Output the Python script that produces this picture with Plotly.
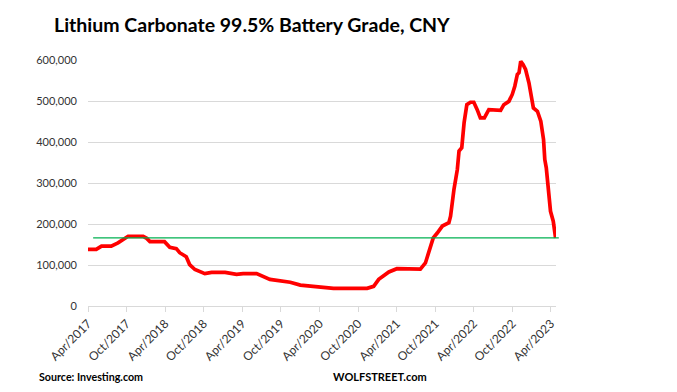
import plotly.graph_objects as go

dates = [
    "2017-04-01", "2017-05-10", "2017-06-04", "2017-07-20", "2017-08-21", "2017-09-14",
    "2017-10-08", "2017-12-18", "2018-01-04", "2018-01-19", "2018-03-29", "2018-04-23",
    "2018-05-24", "2018-06-09", "2018-07-10", "2018-07-26", "2018-08-20", "2018-10-06",
    "2018-11-07", "2019-01-10", "2019-03-05", "2019-04-05", "2019-06-08", "2019-08-10",
    "2019-11-14", "2020-01-01", "2020-04-04", "2020-06-06", "2020-11-12", "2020-12-13",
    "2021-01-06", "2021-01-30", "2021-02-23", "2021-04-02", "2021-07-22", "2021-08-15",
    "2021-08-31", "2021-09-21", "2021-10-10", "2021-11-03", "2021-12-04", "2021-12-12",
    "2021-12-28", "2022-01-13", "2022-01-21", "2022-02-03", "2022-02-14", "2022-02-27",
    "2022-03-16", "2022-04-01", "2022-04-17", "2022-05-02", "2022-05-21", "2022-06-11",
    "2022-08-06", "2022-08-21", "2022-09-14", "2022-09-30", "2022-10-12", "2022-10-24",
    "2022-11-01", "2022-11-09", "2022-11-20", "2022-12-02", "2022-12-18", "2022-12-31",
    "2023-01-08", "2023-01-27", "2023-02-12", "2023-02-25", "2023-03-03", "2023-03-10",
    "2023-03-19", "2023-03-30", "2023-04-12", "2023-04-23",
]
prices = [
    138000, 138000, 146000, 146000, 154000, 162000,
    170000, 170000, 165000, 157000, 157000, 143000,
    140000, 130000, 120000, 101000, 89000, 79000,
    82000, 82000, 77000, 79000, 79000, 65000,
    58000, 51000, 47000, 43000, 43000, 48000,
    65000, 73000, 83000, 91000, 90000, 105000,
    130000, 166000, 178000, 195000, 203000, 219000,
    284000, 333000, 378000, 386000, 447000, 491000,
    497000, 497000, 479000, 459000, 459000, 479000,
    477000, 491000, 499000, 516000, 536000, 565000,
    569000, 597000, 589000, 577000, 544000, 512000,
    483000, 475000, 451000, 406000, 357000, 337000,
    284000, 231000, 207000, 166000,
]
reference_level = 166000

tick_dates = ["2017-04-01", "2017-10-01", "2018-04-01", "2018-10-01", "2019-04-01",
              "2019-10-01", "2020-04-01", "2020-10-01", "2021-04-01", "2021-10-01",
              "2022-04-01", "2022-10-01", "2023-04-01"]
tick_labels = ["Apr/2017", "Oct/2017", "Apr/2018", "Oct/2018", "Apr/2019", "Oct/2019",
               "Apr/2020", "Oct/2020", "Apr/2021", "Oct/2021", "Apr/2022", "Oct/2022",
               "Apr/2023"]
y_ticks = [0, 100000, 200000, 300000, 400000, 500000, 600000]

title_text = "Lithium Carbonate 99.5% Battery Grade, CNY"
source_text = "Source: Investing.com"
brand_text = "WOLFSTREET.com"

FONT = "Lato, 'Open Sans', sans-serif"

fig = go.Figure()
fig.add_trace(go.Scatter(
    x=dates, y=prices, mode="lines",
    line=dict(color="#ff0000", width=3.7),
    hoverinfo="x+y", showlegend=False,
))

fig.add_shape(type="line", xref="paper", yref="y",
              x0=0.011, x1=1.006, y0=reference_level, y1=reference_level,
              line=dict(color="#00b050", width=1.2), layer="above")

fig.update_layout(
    width=677, height=392,
    margin=dict(l=88, r=121, t=60, b=86, autoexpand=False),
    paper_bgcolor="white", plot_bgcolor="white",
    font=dict(family=FONT, size=11, color="#404040"),
    showlegend=False,
    xaxis=dict(
        type="date", range=["2017-04-01", "2023-04-25"], automargin=False,
        tickvals=tick_dates, ticktext=tick_labels, tickangle=-45,
        showgrid=False, showline=True, linecolor="#d9d9d9", linewidth=1,
        ticks="outside", ticklen=5, tickcolor="#d9d9d9",
        tickfont=dict(family=FONT, size=12, color="#333333"),
        zeroline=False,
    ),
    yaxis=dict(
        range=[0, 600000], tickvals=y_ticks, tickformat=",", automargin=False,
        showgrid=True, gridcolor="#d9d9d9", gridwidth=1,
        zeroline=False, showline=False, ticks="",
        ticklabelstandoff=10,
        tickfont=dict(family=FONT, size=11, color="#333333"),
    ),
    annotations=[
        dict(text="<b>" + title_text + "</b>", xref="paper", yref="paper",
             x=-0.077, y=1.0, yanchor="bottom", xanchor="left",
             yshift=22, showarrow=False,
             font=dict(family=FONT, size=19.5, color="black")),
        dict(text="<b>" + source_text + "</b>", xref="paper", yref="paper",
             x=-0.109, xanchor="left", y=0, yanchor="middle", yshift=-70,
             showarrow=False, font=dict(family=FONT, size=10.7, color="black")),
        dict(text="<b>" + brand_text + "</b>", xref="paper", yref="paper",
             x=0.519, xanchor="left", y=0, yanchor="middle", yshift=-70,
             showarrow=False, font=dict(family=FONT, size=11, color="black")),
    ],
)

fig.write_html("out.html", config={"displayModeBar": False})

with open("out.html", "r", encoding="utf-8") as f:
    html = f.read()
html = html.replace("<head>", "<head><style>html,body{margin:0;padding:0;}</style>", 1)
with open("out.html", "w", encoding="utf-8") as f:
    f.write(html)
